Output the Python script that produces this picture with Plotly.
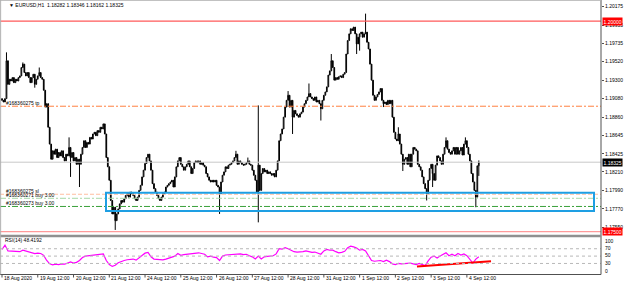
import plotly.graph_objects as go

# ---------------- data ----------------
# hourly closes, bar index 0 = 18 Aug 2020 12:00 (broker time)
closes = [
    1.1906, 1.1904, 1.1908, 1.1953, 1.1925, 1.1931, 1.1929, 1.1933, 1.1927, 1.1931, 1.1929, 1.1933,
    1.1935, 1.1945, 1.1949, 1.1939, 1.1935, 1.1939, 1.1933, 1.1927, 1.1933, 1.1937, 1.1925, 1.1931,
    1.1935, 1.1939, 1.1933, 1.1931, 1.1918, 1.1898, 1.1902, 1.1874, 1.1854, 1.1836, 1.1846, 1.1842,
    1.1848, 1.1838, 1.1844, 1.1840, 1.1846, 1.1838, 1.1834, 1.1842, 1.1840, 1.1850, 1.1838, 1.1844,
    1.1834, 1.1838, 1.1830, 1.1836, 1.1830, 1.1842, 1.1850, 1.1858, 1.1850, 1.1856, 1.1854, 1.1862,
    1.1860, 1.1866, 1.1868, 1.1864, 1.1870, 1.1868, 1.1874, 1.1872, 1.1878, 1.1866, 1.1838, 1.1827,
    1.1811, 1.1787, 1.1771, 1.1779, 1.1763, 1.1771, 1.1777, 1.1783, 1.1787, 1.1785, 1.1789, 1.1793,
    1.1795, 1.1791, 1.1797, 1.1795, 1.1793, 1.1789, 1.1787, 1.1791, 1.1799, 1.1805, 1.1815, 1.1823,
    1.1831, 1.1838, 1.1842, 1.1834, 1.1823, 1.1807, 1.1801, 1.1797, 1.1793, 1.1789, 1.1787, 1.1791,
    1.1795, 1.1797, 1.1803, 1.1805, 1.1807, 1.1809, 1.1811, 1.1803, 1.1815, 1.1827, 1.1834, 1.1838,
    1.1830, 1.1827, 1.1823, 1.1827, 1.1830, 1.1834, 1.1827, 1.1819, 1.1825, 1.1832, 1.1834, 1.1832,
    1.1834, 1.1830, 1.1832, 1.1829, 1.1827, 1.1819, 1.1815, 1.1811, 1.1809, 1.1811, 1.1809, 1.1811,
    1.1805, 1.1803, 1.1795, 1.1809, 1.1817, 1.1821, 1.1827, 1.1825, 1.1829, 1.1830, 1.1832, 1.1834,
    1.1838, 1.1842, 1.1830, 1.1834, 1.1832, 1.1830, 1.1829, 1.1830, 1.1832, 1.1834, 1.1830, 1.1829,
    1.1823, 1.1817, 1.1811, 1.1797, 1.1829, 1.1799, 1.1819, 1.1825, 1.1821, 1.1823, 1.1819, 1.1821,
    1.1819, 1.1817, 1.1819, 1.1815, 1.1823, 1.1834, 1.1858, 1.1866, 1.1872, 1.1886, 1.1898, 1.1906,
    1.1912, 1.1898, 1.1906, 1.1886, 1.1894, 1.1890, 1.1888, 1.1886, 1.1890, 1.1892, 1.1898, 1.1902,
    1.1906, 1.1910, 1.1914, 1.1910, 1.1908, 1.1906, 1.1910, 1.1904, 1.1906, 1.1902, 1.1896, 1.1906,
    1.1912, 1.1916, 1.1922, 1.1936, 1.1941, 1.1953, 1.1945, 1.1930, 1.1933, 1.1931, 1.1934, 1.1935,
    1.1933, 1.1937, 1.1939, 1.1961, 1.1977, 1.1985, 1.1991, 1.1989, 1.1993, 1.1985, 1.1973, 1.1981,
    1.1985, 1.1987, 1.1981, 1.1985, 1.1987, 1.1975, 1.1967, 1.1949, 1.1930, 1.1912, 1.1906, 1.1910,
    1.1913, 1.1916, 1.1920, 1.1906, 1.1902, 1.1904, 1.1901, 1.1906, 1.1902, 1.1906, 1.1886, 1.1868,
    1.1860, 1.1858, 1.1866, 1.1854, 1.1842, 1.1830, 1.1836, 1.1838, 1.1830, 1.1842, 1.1827, 1.1842,
    1.1850, 1.1848, 1.1846, 1.1830, 1.1827, 1.1823, 1.1815, 1.1807, 1.1801, 1.1795, 1.1811, 1.1825,
    1.1830, 1.1819, 1.1811, 1.1829, 1.1840, 1.1838, 1.1834, 1.1830, 1.1842, 1.1850, 1.1858, 1.1848,
    1.1844, 1.1842, 1.1846, 1.1850, 1.1842, 1.1850, 1.1842, 1.1846, 1.1850, 1.1841, 1.1854, 1.1858,
    1.1850, 1.1842, 1.1834, 1.1819, 1.1809, 1.1799, 1.1791, 1.18282, 1.18325,
]
first_open = 1.1908
# notable wick extremes by bar index
high_wicks = {3: 1.1963, 14: 1.1951, 25: 1.1945, 45: 1.1862, 157: 1.1846, 165: 1.1838,
              172: 1.1900, 192: 1.1917, 206: 1.1926, 221: 1.1961, 244: 1.2009,
              266: 1.1874, 298: 1.1862, 311: 1.1862, 320: 1.18346}
low_wicks = {22: 1.1921, 46: 1.1815, 52: 1.1803, 76: 1.1752, 146: 1.1771, 172: 1.1761,
             195: 1.1866, 214: 1.1882, 238: 1.1961, 240: 1.1965, 256: 1.1898, 269: 1.1822,
             285: 1.1787, 289: 1.1803, 318: 1.1779, 320: 1.18162}

# RSI(14), read every second bar
rsi_x = list(range(0, 321, 2))
rsi_vals = [
    68, 80, 64, 63, 62, 63, 62, 66, 64, 61,
    59, 57, 58, 57, 52, 38, 29, 26, 28, 27,
    29, 28, 31, 34, 31, 33, 38, 46, 50, 51,
    53, 54, 55, 57, 56, 38, 27, 22, 25, 32,
    36, 38, 40, 41, 42, 39, 46, 52, 58, 60,
    48, 42, 41, 39, 40, 42, 44, 46, 50, 57,
    52, 54, 55, 57, 56, 58, 59, 57, 55, 48,
    50, 47, 46, 38, 50, 53, 54, 55, 56, 57,
    56, 54, 55, 51, 48, 42, 50, 42, 48, 49,
    50, 51, 56, 70, 69, 73, 70, 66, 62, 61,
    61, 62, 64, 62, 60, 61, 57, 55, 64, 68,
    66, 66, 62, 59, 60, 63, 73, 77, 75, 72,
    66, 68, 64, 50, 38, 36, 36, 38, 35, 39,
    35, 29, 27, 30, 29, 30, 32, 31, 29, 27,
    30, 27, 24, 37, 47, 50, 45, 50, 55, 59,
    51, 55, 51, 57, 53, 56, 51, 42, 31, 42,
    48.4192,
]
rsi_trend_x = [278.5, 328.2]
rsi_trend_y = [21.8, 35.8]

time_tick_idx = [0, 24, 48, 72, 96, 120, 144, 168, 192, 216, 240, 264, 288, 312]
time_tick_text = ["18 Aug 2020", "19 Aug 12:00", "20 Aug 12:00", "21 Aug 12:00", "24 Aug 12:00",
                  "25 Aug 12:00", "26 Aug 12:00", "27 Aug 12:00", "28 Aug 12:00", "31 Aug 12:00",
                  "1 Sep 12:00", "2 Sep 12:00", "3 Sep 12:00", "4 Sep 12:00"]
price_ticks = [1.20175, 1.19955, 1.19735, 1.19520, 1.19300, 1.19080, 1.18860,
               1.18645, 1.18425, 1.18210, 1.17990, 1.17770, 1.17550]
rsi_levels = [70, 50, 30]
rsi_labels = ["100", "70", "50", "30", "0"]

level_hi = 1.20000
level_lo = 1.17500
tp_level = 1.18990
sl_level = 1.17944
buy1_level = 1.17896
buy2_level = 1.17799
bid = 1.18325
zone_x = [69.8, 397.3]
zone_y = [1.17745, 1.17963]

title_text = "EURUSD,H1  1.18282 1.18346 1.18162 1.18325"

# ---------------- build ----------------
n = len(closes)
idx = list(range(n))
opens = [first_open] + closes[:-1]
highs = [max(o, c) for o, c in zip(opens, closes)]
lows = [min(o, c) for o, c in zip(opens, closes)]
for k, v in high_wicks.items():
    highs[k] = max(highs[k], v)
for k, v in low_wicks.items():
    lows[k] = min(lows[k], v)

W, H = 625, 283
XR = 601 / W
main_bot = (H - 236) / H
rsi_bot = (H - 274.5) / H
xrange = [-1.34, 402]
yrange = [1.17448, 1.20252]

def py(y):  # pixel y -> paper
    return (H - y) / H

fig = go.Figure()
fig.add_trace(go.Candlestick(
    x=idx, open=opens, high=highs, low=lows, close=closes,
    increasing=dict(line=dict(color="#000000", width=1), fillcolor="#ffffff"),
    decreasing=dict(line=dict(color="#000000", width=1), fillcolor="#000000"),
    whiskerwidth=0, xaxis="x", yaxis="y", hoverinfo="skip"))

fig.add_trace(go.Scatter(x=rsi_x, y=rsi_vals, mode="lines",
                         line=dict(color="#ff00ff", width=1.2),
                         xaxis="x2", yaxis="y2", hoverinfo="skip"))
fig.add_trace(go.Scatter(x=rsi_trend_x, y=rsi_trend_y, mode="lines",
                         line=dict(color="#ff0000", width=2),
                         xaxis="x2", yaxis="y2", hoverinfo="skip"))

shapes = []
def hline(y, color, width=1, dash="solid"):
    shapes.append(dict(type="line", xref="x", yref="y", x0=xrange[0], x1=xrange[1],
                       y0=y, y1=y, line=dict(color=color, width=width, dash=dash)))

hline(level_hi, "#ff5a5a", 1.3)
hline(level_lo, "#ff9a9a", 1.3)
hline(tp_level, "#ff8040", 1, "6px,2px,2px,2px")
hline(bid, "#c8c8c8", 1)
hline(sl_level, "#ffbfa0", 1, "4px,2px")
hline(buy1_level, "#a8d8a8", 1, "6px,2px,2px,2px")
hline(buy2_level, "#3aa03a", 1, "6px,2px,2px,2px")
shapes.append(dict(type="rect", xref="x", yref="y", x0=zone_x[0], x1=zone_x[1],
                   y0=zone_y[0], y1=zone_y[1], line=dict(color="#1e9fe3", width=2),
                   fillcolor="rgba(0,0,0,0)"))
for lv in rsi_levels:
    shapes.append(dict(type="line", xref="x2", yref="y2", x0=xrange[0], x1=xrange[1],
                       y0=lv, y1=lv, line=dict(color="#b8b8b8", width=1, dash="dot")))
# frame
shapes.append(dict(type="line", xref="paper", yref="paper", x0=XR, x1=XR, y0=rsi_bot, y1=1,
                   line=dict(color="#505050", width=1)))
shapes.append(dict(type="line", xref="paper", yref="paper", x0=0, x1=XR, y0=rsi_bot, y1=rsi_bot,
                   line=dict(color="#505050", width=1)))
shapes.append(dict(type="line", xref="paper", yref="paper", x0=0, x1=XR, y0=main_bot, y1=main_bot,
                   line=dict(color="#909090", width=2.5)))
shapes.append(dict(type="line", xref="paper", yref="paper", x0=0.001, x1=0.001, y0=rsi_bot, y1=1,
                   line=dict(color="#b0b0b0", width=1)))
shapes.append(dict(type="line", xref="paper", yref="paper", x0=0, x1=XR, y0=0.999, y1=0.999,
                   line=dict(color="#b0b0b0", width=1)))
for ti in time_tick_idx:
    shapes.append(dict(type="line", xref="x2", yref="paper", x0=ti, x1=ti,
                       y0=py(274.5), y1=py(277.5), line=dict(color="#505050", width=1)))

FONT = "Liberation Sans"
ann = []
ann.append(dict(xref="paper", yref="paper", x=0.011, y=py(5), text="▼ " + title_text,
                showarrow=False, xanchor="left", yanchor="middle",
                font=dict(family=FONT, size=5, color="#000")))
ann.append(dict(xref="paper", yref="paper", x=0.004, y=py(240), text="RSI(14) 48.4192",
                showarrow=False, xanchor="left", yanchor="middle",
                font=dict(family=FONT, size=5, color="#000")))
for ti, tt in zip(time_tick_idx, time_tick_text):
    ann.append(dict(xref="x2", yref="paper", x=ti, y=py(278), text=tt, showarrow=False,
                    xanchor="left", yanchor="middle", xshift=0,
                    font=dict(family=FONT, size=5, color="#000")))
for lbl, yp in zip(rsi_labels, [240.7, 247.5, 255.3, 262.7, 270.7]):
    ann.append(dict(xref="paper", yref="paper", x=XR, xshift=2, y=py(yp), text=lbl,
                    showarrow=False, xanchor="left", yanchor="middle",
                    font=dict(family=FONT, size=5, color="#000")))
for val, bg in [(level_hi, "#ff0000"), (level_lo, "#ff0000"), (bid, "#000000")]:
    ann.append(dict(xref="paper", yref="y", x=XR, xshift=1, y=val, text=f"{val:.5f}",
                    showarrow=False, xanchor="left", yanchor="middle", bgcolor=bg,
                    borderpad=0.5, font=dict(family=FONT, size=5, color="#ffffff")))
for txt, val in [("#168360275 tp", tp_level), ("#168360275 sl", sl_level),
                 ("#168360271 buy 3.00", buy1_level), ("#168360273 buy 3.00", buy2_level)]:
    ann.append(dict(xref="paper", yref="y", x=0.007, y=val, yshift=3, text=txt,
                    showarrow=False, xanchor="left", yanchor="middle",
                    font=dict(family=FONT, size=5, color="#000")))

fig.update_layout(
    width=W, height=H, margin=dict(l=0, r=0, t=0, b=0),
    paper_bgcolor="#ffffff", plot_bgcolor="#ffffff", showlegend=False,
    xaxis=dict(domain=[0, XR], range=xrange, showticklabels=False, showgrid=False,
               zeroline=False, rangeslider=dict(visible=False), anchor="y"),
    yaxis=dict(domain=[main_bot, 1], range=yrange, side="right", anchor="x",
               tickvals=price_ticks, ticktext=[f"{v:.5f}" for v in price_ticks],
               ticks="outside", ticklen=2, tickcolor="#505050",
               tickfont=dict(family=FONT, size=5, color="#000"),
               showgrid=False, zeroline=False),
    xaxis2=dict(domain=[0, XR], range=xrange, showticklabels=False, showgrid=False,
                zeroline=False, anchor="y2"),
    yaxis2=dict(domain=[rsi_bot, main_bot - 0.006], range=[0, 100], side="right", anchor="x2",
                showticklabels=False, showgrid=False, zeroline=False),
    shapes=shapes, annotations=ann,
)
fig.write_html("out.html")
